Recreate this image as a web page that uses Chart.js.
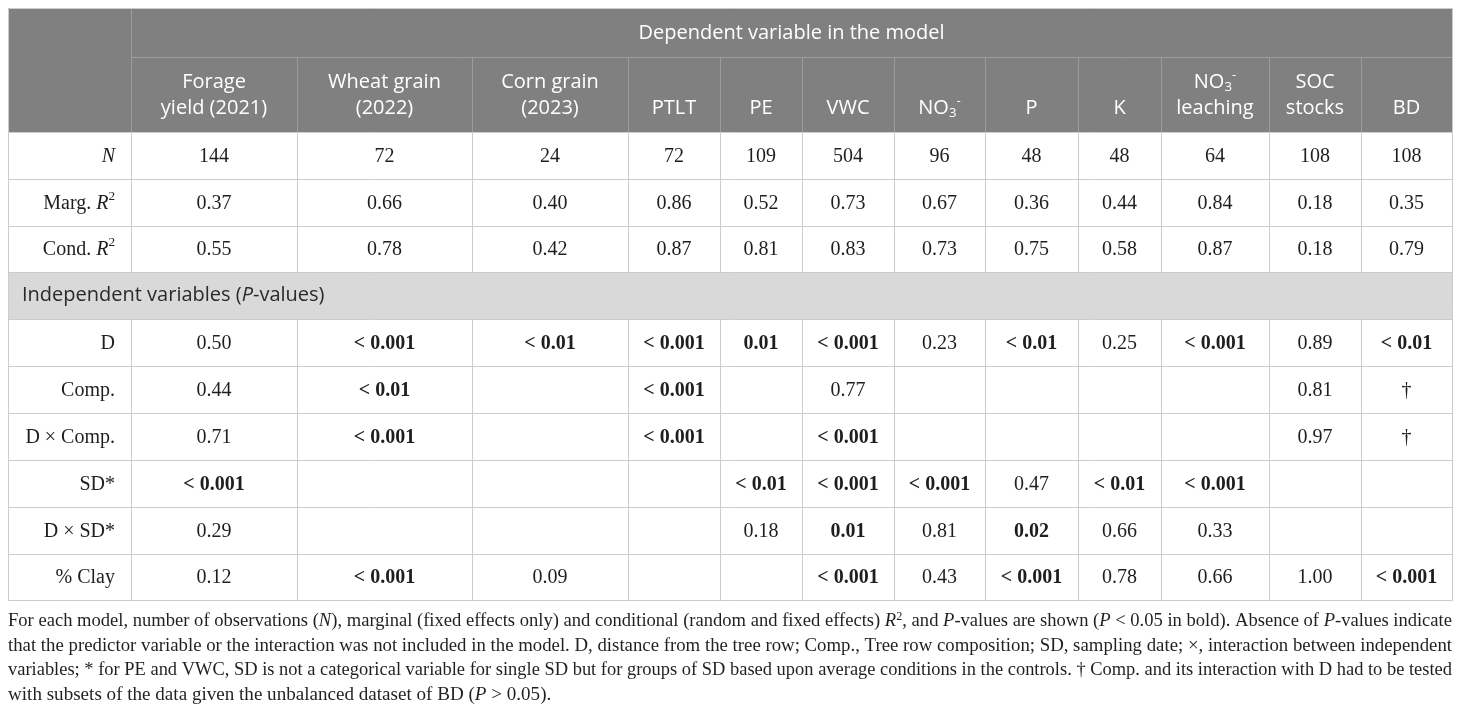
<!DOCTYPE html>
<html>
<head>
<meta charset="utf-8">
<script src="https://cdn.jsdelivr.net/npm/chart.js@4.4.0/dist/chart.umd.min.js"></script>
<style>html,body{margin:0;padding:0;background:#fff}</style>
</head>
<body>
<canvas id="tbl" width="1460" height="712"></canvas>
<script>
// text markup: _italic_  ^superscript^  ~subscript~
const groupTitle = "Dependent variable in the model";
const columns = [
  ["Forage", "yield (2021)"], ["Wheat grain", "(2022)"], ["Corn grain", "(2023)"],
  ["PTLT"], ["PE"], ["VWC"], ["NO~3~^-^"], ["P"], ["K"],
  ["NO~3~^-^", "leaching"], ["SOC", "stocks"], ["BD"]
];

const fitLabels = ["_N_", "Marg. _R_^2^", "Cond. _R_^2^"];
const nObs   = ["144", "72", "24", "72", "109", "504", "96", "48", "48", "64", "108", "108"];
const margR2 = ["0.37", "0.66", "0.40", "0.86", "0.52", "0.73", "0.67", "0.36", "0.44", "0.84", "0.18", "0.35"];
const condR2 = ["0.55", "0.78", "0.42", "0.87", "0.81", "0.83", "0.73", "0.75", "0.58", "0.87", "0.18", "0.79"];

const sectionTitle = "Independent variables (_P_-values)";
const pLabels = ["D", "Comp.", "D × Comp.", "SD*", "D × SD*", "% Clay"];
const pD      = ["0.50", "< 0.001", "< 0.01", "< 0.001", "0.01", "< 0.001", "0.23", "< 0.01", "0.25", "< 0.001", "0.89", "< 0.01"];
const pComp   = ["0.44", "< 0.01", "", "< 0.001", "", "0.77", "", "", "", "", "0.81", "†"];
const pDxComp = ["0.71", "< 0.001", "", "< 0.001", "", "< 0.001", "", "", "", "", "0.97", "†"];
const pSD     = ["< 0.001", "", "", "", "< 0.01", "< 0.001", "< 0.001", "0.47", "< 0.01", "< 0.001", "", ""];
const pDxSD   = ["0.29", "", "", "", "0.18", "0.01", "0.81", "0.02", "0.66", "0.33", "", ""];
const pClay   = ["0.12", "< 0.001", "0.09", "", "", "< 0.001", "0.43", "< 0.001", "0.78", "0.66", "1.00", "< 0.001"];

const caption = [
  "For each model, number of observations (_N_), marginal (fixed effects only) and conditional (random and fixed effects) _R_^2^, and _P_-values are shown (_P_ < 0.05 in bold). Absence of _P_-values indicate",
  "that the predictor variable or the interaction was not included in the model. D, distance from the tree row; Comp., Tree row composition; SD, sampling date; ×, interaction between independent",
  "variables; * for PE and VWC, SD is not a categorical variable for single SD but for groups of SD based upon average conditions in the controls. † Comp. and its interaction with D had to be tested",
  "with subsets of the data given the unbalanced dataset of BD (_P_ > 0.05)."
];

// layout (in scale units)
const colEdges = [8, 131, 297, 472, 628, 720, 802, 894, 985, 1078, 1161, 1269, 1361, 1452];
const rowEdges = [8, 57, 132, 179, 226, 272, 319, 366, 413, 460, 507, 554, 600];
const SANS = '"Open Sans", sans-serif';
const SERIF = '"Liberation Serif", serif';

function parseRich(str) {
  const words = [[]];
  let it = false, sup = false, sub = false;
  for (const ch of str) {
    if (ch === '_') { it = !it; continue; }
    if (ch === '^') { sup = !sup; continue; }
    if (ch === '~') { sub = !sub; continue; }
    if (ch === ' ') { words.push([]); continue; }
    const w = words[words.length - 1];
    const last = w[w.length - 1];
    if (last && last.it === it && last.sup === sup && last.sub === sub) last.t += ch;
    else w.push({ t: ch, it, sup, sub });
  }
  return words.filter(w => w.length);
}

function runFont(r, st) {
  const sz = (r.sup || r.sub) ? st.size * 0.66 : st.size;
  return (r.it ? 'italic ' : '') + (st.weight || 'normal') + ' ' + sz + 'px ' + st.family;
}

function wordWidth(ctx, w, st) {
  let s = 0;
  for (const r of w) { ctx.font = runFont(r, st); s += ctx.measureText(r.t).width; }
  return s;
}

function drawWord(ctx, w, x, y, st) {
  for (const r of w) {
    ctx.font = runFont(r, st);
    const dy = r.sup ? -st.size * 0.36 : r.sub ? st.size * 0.24 : 0;
    ctx.fillText(r.t, x, y + dy);
    x += ctx.measureText(r.t).width;
  }
  return x;
}

function drawRich(ctx, str, x, y, align, st) {
  const words = parseRich(str);
  ctx.font = (st.weight || 'normal') + ' ' + st.size + 'px ' + st.family;
  const sp = ctx.measureText(' ').width;
  const ws = words.map(w => wordWidth(ctx, w, st));
  const total = ws.reduce((a, b) => a + b, 0) + sp * (words.length - 1);
  let cx = align === 'center' ? x - total / 2 : align === 'right' ? x - total : x;
  ctx.fillStyle = st.color;
  words.forEach((w, i) => { drawWord(ctx, w, cx, y, st); cx += ws[i] + sp; });
}

// stretch a little horizontally (the original face is wider), then justify
function drawJustified(ctx, str, x0, x1, y, st, last) {
  const words = parseRich(str);
  ctx.font = st.size + 'px ' + st.family;
  const sp = ctx.measureText(' ').width;
  const ws = words.map(w => wordWidth(ctx, w, st));
  const sum = ws.reduce((a, b) => a + b, 0);
  const natural = sum + sp * (words.length - 1);
  let sx = st.stretch;
  let gap = sp;
  if (!last) {
    sx = Math.min(Math.max((x1 - x0) / natural, 0.9), st.stretch);
    gap = ((x1 - x0) / sx - sum) / (words.length - 1);
  }
  ctx.save();
  ctx.translate(x0, 0);
  ctx.scale(sx, 1);
  ctx.fillStyle = st.color;
  let cx = 0;
  words.forEach((w, i) => { drawWord(ctx, w, cx, y, st); cx += ws[i] + gap; });
  ctx.restore();
}

function isBold(v) {
  if (v.startsWith('<')) return true;
  const n = parseFloat(v);
  return !isNaN(n) && n < 0.05;
}

const tablePlugin = {
  id: 'table',
  afterDraw(chart) {
    const ctx = chart.ctx;
    const X = v => chart.scales.x.getPixelForValue(v);
    const Y = v => chart.scales.y.getPixelForValue(v);
    const L = colEdges.length - 1;
    ctx.save();
    ctx.textBaseline = 'middle';

    // backgrounds
    ctx.fillStyle = '#808080';
    ctx.fillRect(X(colEdges[0]), Y(rowEdges[0]), X(colEdges[L]) - X(colEdges[0]), Y(rowEdges[2]) - Y(rowEdges[0]));
    ctx.fillStyle = '#d9d9d9';
    ctx.fillRect(X(colEdges[0]), Y(rowEdges[5]), X(colEdges[L]) - X(colEdges[0]), Y(rowEdges[6]) - Y(rowEdges[5]));

    const line = (x0, y0, x1, y1, c) => {
      ctx.strokeStyle = c; ctx.lineWidth = 1;
      ctx.beginPath();
      ctx.moveTo(Math.round(X(x0)) + 0.5, Math.round(Y(y0)) + 0.5);
      ctx.lineTo(Math.round(X(x1)) + 0.5, Math.round(Y(y1)) + 0.5);
      ctx.stroke();
    };
    const hdr = '#9c9c9c', grid = '#cccccc';
    // header grid
    line(colEdges[1], rowEdges[1], colEdges[L], rowEdges[1], hdr);
    line(colEdges[1], rowEdges[0], colEdges[1], rowEdges[2], hdr);
    for (let c = 2; c < L; c++) line(colEdges[c], rowEdges[1], colEdges[c], rowEdges[2], hdr);
    // body grid
    for (let r = 2; r < rowEdges.length; r++) line(colEdges[0], rowEdges[r], colEdges[L], rowEdges[r], grid);
    for (let c = 1; c < L; c++) {
      line(colEdges[c], rowEdges[2], colEdges[c], rowEdges[5], grid);
      line(colEdges[c], rowEdges[6], colEdges[c], rowEdges[12], grid);
    }
    line(colEdges[0], rowEdges[0], colEdges[L], rowEdges[0], grid);
    line(colEdges[0], rowEdges[0], colEdges[0], rowEdges[12], grid);
    line(colEdges[L], rowEdges[0], colEdges[L], rowEdges[12], grid);

    // header text
    const hst = { family: SANS, size: 20, color: '#ffffff' };
    drawRich(ctx, groupTitle, (X(colEdges[1]) + X(colEdges[L])) / 2, Y(33), 'center', hst);
    columns.forEach((lines, i) => {
      const cx = (X(colEdges[i + 1]) + X(colEdges[i + 2])) / 2;
      if (lines.length === 1) drawRich(ctx, lines[0], cx, Y(108), 'center', hst);
      else lines.forEach((t, k) => drawRich(ctx, t, cx, Y(k ? 108 : 82), 'center', hst));
    });

    // body rows
    const bodyColor = '#1e1e1e';
    const rows = [
      { label: fitLabels[0], vals: nObs, r: 2 },
      { label: fitLabels[1], vals: margR2, r: 3 },
      { label: fitLabels[2], vals: condR2, r: 4 },
      { label: pLabels[0], vals: pD, r: 6 },
      { label: pLabels[1], vals: pComp, r: 7 },
      { label: pLabels[2], vals: pDxComp, r: 8 },
      { label: pLabels[3], vals: pSD, r: 9 },
      { label: pLabels[4], vals: pDxSD, r: 10 },
      { label: pLabels[5], vals: pClay, r: 11 }
    ];
    rows.forEach(row => {
      const cy = (Y(rowEdges[row.r]) + Y(rowEdges[row.r + 1])) / 2 + 1;
      drawRich(ctx, row.label, X(colEdges[1]) - 16, cy, 'right', { family: SERIF, size: 20, color: bodyColor });
      row.vals.forEach((v, i) => {
        if (!v) return;
        const cx = (X(colEdges[i + 1]) + X(colEdges[i + 2])) / 2;
        drawRich(ctx, v, cx, cy, 'center', { family: SERIF, size: 20, color: bodyColor, weight: isBold(v) ? 'bold' : 'normal' });
      });
    });
    drawRich(ctx, sectionTitle, X(22), (Y(rowEdges[5]) + Y(rowEdges[6])) / 2, 'left', { family: SANS, size: 20, color: '#2a2a2a' });

    // caption
    ctx.textBaseline = 'alphabetic';
    const cst = { family: SERIF, size: 18, color: '#231f20', stretch: 1.06 };
    caption.forEach((t, i) => drawJustified(ctx, t, X(8), X(1452), Y(626 + i * 24.7), cst, i === caption.length - 1));
    ctx.restore();
  }
};

new Chart(document.getElementById('tbl'), {
  type: 'scatter',
  data: { datasets: [] },
  options: {
    responsive: false,
    animation: false,
    events: [],
    layout: { padding: 0 },
    plugins: { legend: { display: false }, tooltip: { enabled: false } },
    scales: {
      x: { type: 'linear', min: 0, max: 1460, display: false },
      y: { type: 'linear', min: 0, max: 712, reverse: true, display: false }
    }
  },
  plugins: [tablePlugin]
});
</script>
</body>
</html>
